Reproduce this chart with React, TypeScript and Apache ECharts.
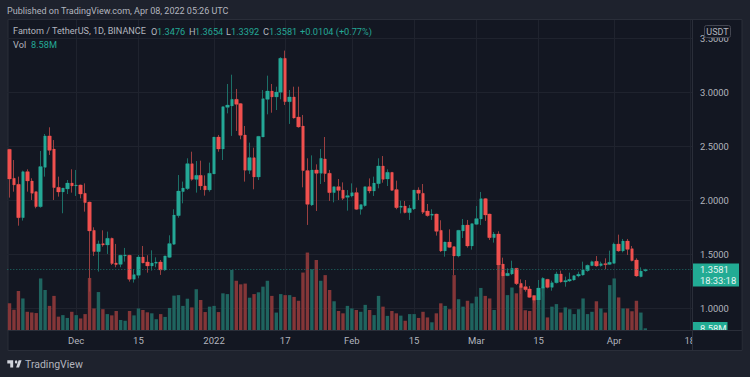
import React, { useEffect, useRef } from "react";
import * as echarts from "echarts";

const opens = [2.472,2.204,2.148,1.839,2.265,2.179,2.080,1.941,2.305,2.596,2.475,2.120,2.077,2.105,2.160,2.133,2.142,2.065,1.984,1.722,1.525,1.599,1.586,1.648,1.420,1.407,1.485,1.491,1.269,1.306,1.475,1.429,1.392,1.417,1.429,1.355,1.472,1.593,1.858,2.080,2.108,2.339,2.194,2.231,2.133,2.096,2.244,2.586,2.475,2.861,2.873,2.935,2.895,2.605,2.278,2.395,2.216,2.586,2.935,3.012,2.957,3.000,3.315,2.913,2.957,2.771,2.688,2.275,1.957,2.281,2.250,2.383,2.250,2.071,2.126,2.095,2.028,2.040,2.071,1.917,1.950,2.126,2.086,2.154,2.318,2.197,2.259,2.099,1.935,1.947,1.886,1.920,2.095,2.065,1.901,1.861,1.873,1.722,1.531,1.614,1.571,1.484,1.716,1.771,1.577,1.778,1.827,2.015,1.873,1.654,1.688,1.410,1.302,1.318,1.370,1.231,1.200,1.179,1.117,1.077,1.185,1.268,1.194,1.237,1.318,1.244,1.253,1.262,1.299,1.308,1.349,1.395,1.435,1.395,1.413,1.407,1.416,1.595,1.531,1.623,1.552,1.447,1.293,1.3476];
const closes = [2.197,2.142,1.839,2.265,2.179,2.065,1.941,2.312,2.596,2.463,2.117,2.077,2.114,2.160,2.133,2.142,2.058,1.978,1.716,1.525,1.596,1.586,1.648,1.414,1.404,1.491,1.494,1.269,1.312,1.475,1.420,1.392,1.420,1.429,1.355,1.485,1.599,1.864,2.086,2.114,2.339,2.194,2.231,2.133,2.096,2.250,2.586,2.475,2.867,2.882,2.935,2.889,2.602,2.278,2.395,2.216,2.592,2.941,3.012,2.957,3.003,3.315,2.913,2.957,2.762,2.679,2.275,1.963,2.281,2.250,2.389,2.247,2.071,2.126,2.092,2.018,2.043,2.071,1.917,1.960,2.126,2.086,2.160,2.318,2.194,2.259,2.092,1.932,1.947,1.886,1.926,2.095,2.065,1.889,1.858,1.873,1.713,1.531,1.614,1.565,1.484,1.722,1.771,1.577,1.784,1.830,2.015,1.864,1.654,1.688,1.401,1.299,1.324,1.370,1.228,1.191,1.173,1.102,1.074,1.188,1.278,1.194,1.237,1.318,1.244,1.256,1.268,1.302,1.315,1.355,1.398,1.432,1.392,1.413,1.404,1.426,1.595,1.531,1.623,1.546,1.441,1.299,1.345,1.3581];
const lows = [2.025,2.080,1.765,1.812,2.080,2.003,1.926,1.932,2.219,2.420,2.003,2.034,1.880,2.058,2.071,2.040,2.018,1.895,1.154,1.485,1.340,1.571,1.503,1.401,1.380,1.380,1.432,1.247,1.238,1.278,1.417,1.330,1.349,1.380,1.309,1.346,1.466,1.586,1.839,1.972,2.096,2.182,2.071,2.096,2.043,2.080,2.244,2.450,2.373,2.805,2.596,2.642,2.565,2.173,2.244,2.102,2.188,2.586,2.796,2.811,2.836,2.935,2.882,2.707,2.756,2.673,2.120,1.772,1.947,1.901,2.151,2.170,1.994,1.981,2.003,2.003,1.904,2.028,1.910,1.867,1.941,2.065,2.040,2.111,2.163,2.132,2.086,1.917,1.879,1.879,1.818,1.910,2.003,1.873,1.849,1.818,1.673,1.521,1.478,1.562,1.309,1.472,1.651,1.562,1.543,1.771,1.771,1.809,1.633,1.608,1.262,1.285,1.299,1.308,1.216,1.132,1.154,1.099,1.046,1.031,1.108,1.185,1.163,1.231,1.237,1.200,1.244,1.256,1.287,1.302,1.339,1.392,1.386,1.386,1.361,1.401,1.416,1.524,1.518,1.494,1.435,1.293,1.287,1.3392];
const highs = [2.472,2.373,2.219,2.274,2.287,2.204,2.080,2.457,2.614,2.676,2.558,2.219,2.114,2.188,2.287,2.281,2.142,2.157,1.984,1.750,1.627,1.722,1.710,1.654,1.596,1.491,1.559,1.491,1.361,1.494,1.577,1.491,1.537,1.472,1.447,1.485,1.676,1.917,2.234,2.173,2.389,2.450,2.364,2.367,2.231,2.349,2.586,2.605,2.867,3.077,3.163,3.031,2.901,2.688,2.534,2.487,2.592,3.021,3.154,3.077,3.052,3.324,3.386,3.021,3.052,3.052,2.790,2.389,2.416,2.333,2.475,2.586,2.281,2.126,2.197,2.166,2.095,2.157,2.117,1.960,2.126,2.203,2.219,2.389,2.410,2.287,2.259,2.182,1.997,1.994,1.957,2.095,2.120,2.151,1.966,1.917,1.873,1.815,1.617,1.731,1.571,1.722,1.827,1.818,1.784,1.947,2.077,2.018,1.873,1.707,1.713,1.469,1.370,1.441,1.370,1.268,1.262,1.207,1.123,1.262,1.287,1.268,1.256,1.339,1.349,1.293,1.330,1.308,1.339,1.432,1.404,1.441,1.484,1.432,1.463,1.534,1.608,1.682,1.642,1.642,1.577,1.463,1.379,1.3654];
const volumes = [106,81,154,125,73,70,68,203,158,96,135,54,60,49,73,60,47,64,205,86,150,83,64,59,76,41,38,76,59,86,80,71,67,44,64,53,88,136,138,96,124,90,161,119,72,93,96,72,145,142,236,194,180,183,128,142,149,171,194,135,70,142,138,138,131,116,226,304,239,275,194,216,158,114,76,67,96,86,80,73,100,80,60,135,93,57,76,67,58,38,64,64,49,73,51,32,67,106,96,83,216,122,93,116,106,132,166,135,125,80,270,228,138,168,145,175,79,76,138,151,171,51,93,103,70,90,83,64,83,125,64,73,114,86,70,177,203,129,86,86,75,116,70,8.58];

const startDay = Date.UTC(2021, 10, 16);
const dayCount = 154;
const categories = Array.from({ length: dayCount }, (_, i) =>
  new Date(startDay + i * 86400000).toISOString().slice(0, 10)
);
const xTickDates = ["2021-12-01","2021-12-15","2022-01-01","2022-01-17","2022-02-01","2022-02-15","2022-03-01","2022-03-15","2022-04-01","2022-04-18"];
const xTickLabels = ["Dec","15","2022","17","Feb","15","Mar","15","Apr","18"];
const lastPrice = 1.3581;

const publishedText = "Published on TradingView.com, Apr 08, 2022 05:26 UTC";
const titleText = "Fantom / TetherUS, 1D, BINANCE";
const legendLetters = ["O", "H", "L", "C"];
const legendValues = ["1.3476", "1.3654", "1.3392", "1.3581"];
const legendX = [151, 189, 226, 263];
const legendValueX = [157, 195, 231, 269];
const changeText = "+0.0104 (+0.77%)";

const FONT = "Roboto, sans-serif";
const UP = "#24a896";
const DOWN = "#f0504e";
const UP_WICK = "#1c6f67";
const DOWN_WICK = "#9a3f40";
const UP_VOL = "#1f645f";
const DOWN_VOL = "#843638";
const PANE = "#131722";
const OUTER = "#1e222d";
const BORDER = "#2a2e39";
const GRIDLINE = "#1f232e";
const TEXT = "#b2b5be";

const LOGO = "M14 6H0v6h7v8h7V6ZM24 9a3 3 0 1 1-6 0a3 3 0 0 1 6 0ZM34 6h-7l-6 14h7L34 6Z";
echarts.graphic.registerShape("tvlogo", echarts.graphic.extendPath(LOGO, {}));

function label(text: string, x: number, y: number, fill: string, size = 9.2, z = 60, align = "left") {
  return {
    type: "text", x, y, z, silent: true,
    style: { text, fill, font: `${size}px ${FONT}`, verticalAlign: "middle", align },
  };
}

export default function App() {
  const ref = useRef<HTMLDivElement>(null);
  useEffect(() => {
    document.body.style.margin = "0";
    document.body.style.background = OUTER;
    const chart = echarts.init(ref.current!, undefined, { renderer: "svg" });
    const ohlc = opens.map((o, i) => [o, closes[i], lows[i], highs[i]]);
    const bodies = opens.map((o, i) => [o, closes[i], Math.min(o, closes[i]), Math.max(o, closes[i])]);
    const volData = volumes.map((v, i) => ({
      value: v,
      itemStyle: { color: closes[i] >= opens[i] ? UP_VOL : DOWN_VOL },
    }));
    const tickFilter = (_: number, value: string) => xTickDates.includes(value);

    chart.setOption({
      animation: false,
      backgroundColor: OUTER,
      textStyle: { fontFamily: FONT },
      grid: [
        { left: 7.3, width: 684.7, top: 20, height: 310.5 },
        { left: 7.3, width: 684.7, top: 38.3, height: 270 },
      ],
      xAxis: [
        {
          type: "category", gridIndex: 0, data: categories, boundaryGap: true,
          axisLine: { show: false }, axisTick: { show: false },
          axisLabel: {
            interval: tickFilter, color: TEXT, fontSize: 9.5, margin: 5, fontFamily: FONT,
            hideOverlap: false,
            formatter: (v: string) => xTickLabels[xTickDates.indexOf(v)] ?? "",
          },
          splitLine: { show: true, alignWithLabel: true, interval: tickFilter, lineStyle: { color: GRIDLINE, width: 1 } },
        },
        {
          type: "category", gridIndex: 1, data: categories, boundaryGap: true,
          axisLine: { show: false }, axisTick: { show: false }, axisLabel: { show: false }, splitLine: { show: false },
        },
      ],
      yAxis: [
        { type: "value", gridIndex: 0, min: 0, max: 1211, show: false, splitLine: { show: false } },
        {
          type: "value", gridIndex: 1, position: "right", min: 1, max: 3.5, interval: 0.5,
          axisLine: { show: false }, axisTick: { show: false },
          axisLabel: { color: TEXT, fontSize: 9.4, margin: 8, fontFamily: FONT, formatter: (v: number) => v.toFixed(4) },
          splitLine: { show: true, lineStyle: { color: GRIDLINE, width: 1 } },
        },
      ],
      series: [
        { name: "Vol", type: "bar", xAxisIndex: 0, yAxisIndex: 0, data: volData, barWidth: 3.4, z: 2 },
        {
          name: "FTMUSDT wicks", type: "candlestick", xAxisIndex: 1, yAxisIndex: 1, data: ohlc, barWidth: 2, z: 3,
          itemStyle: { color: UP_WICK, color0: DOWN_WICK, borderColor: UP_WICK, borderColor0: DOWN_WICK, borderWidth: 1 },
          markLine: {
            silent: true, symbol: "none", label: { show: false }, animation: false,
            lineStyle: { color: "#1f6f69", type: [1, 2], width: 1 },
            data: [{ yAxis: lastPrice }],
          },
        },
        {
          name: "FTMUSDT", type: "candlestick", xAxisIndex: 1, yAxisIndex: 1, data: bodies, barWidth: 4, z: 4,
          itemStyle: { color: UP, color0: DOWN, borderColor: UP, borderColor0: DOWN, borderWidth: 0 },
        },
      ],
      graphic: { elements: [
        { type: "rect", z: -5, silent: true, shape: { x: 8, y: 19.5, width: 734, height: 331 }, style: { fill: PANE, stroke: BORDER, lineWidth: 1 } },
        { type: "line", z: 55, silent: true, shape: { x1: 692.5, y1: 20, x2: 692.5, y2: 350 }, style: { stroke: BORDER, lineWidth: 1 } },
        { type: "line", z: 55, silent: true, shape: { x1: 8, y1: 330.5, x2: 742, y2: 330.5 }, style: { stroke: BORDER, lineWidth: 1 } },

        { type: "rect", z: 40, silent: true, shape: { x: 692, y: 263.5, width: 47, height: 23 }, style: { fill: "#22ab94" } },
        label(lastPrice.toFixed(4), 700, 269.5, "#e6f5f2", 9.4, 41),
        label("18:33:18", 700, 280.5, "#e6f5f2", 9.4, 41),
        { type: "rect", z: 40, silent: true, shape: { x: 692, y: 322, width: 35.5, height: 12 }, style: { fill: "#22ab94" } },
        label("8.58M", 700, 328, "#e6f5f2", 9.4, 41),
        { type: "rect", z: 50, silent: true, shape: { x: 693, y: 331, width: 48.5, height: 19 }, style: { fill: PANE } },

        { type: "rect", z: 42, silent: true, shape: { x: 704.5, y: 25.5, width: 26, height: 12, r: 2 }, style: { fill: PANE, stroke: "#434651", lineWidth: 1 } },
        label("USDT", 717.5, 31.5, TEXT, 9, 43, "center"),

        label(publishedText, 7, 11, TEXT, 9),
        label(titleText, 13, 31, TEXT, 9.1),
        ...legendLetters.map((t, i) => label(t, legendX[i], 31, TEXT)),
        ...legendValues.map((t, i) => label(t, legendValueX[i], 31, UP)),
        label(changeText, 300, 31, UP),
        label("Vol", 13, 44, TEXT),
        label("8.58M", 31, 44, UP),

        { type: "tvlogo", x: 7.3, y: 357.2, scaleX: 0.42, scaleY: 0.52, z: 60, silent: true, style: { fill: "#d1d4dc" } },
        label("TradingView", 25, 364, TEXT, 10.5),
      ] },
    });
    return () => chart.dispose();
  }, []);
  return <div ref={ref} style={{ position: "fixed", left: 0, top: 0, width: 750, height: 377 }} />;
}
